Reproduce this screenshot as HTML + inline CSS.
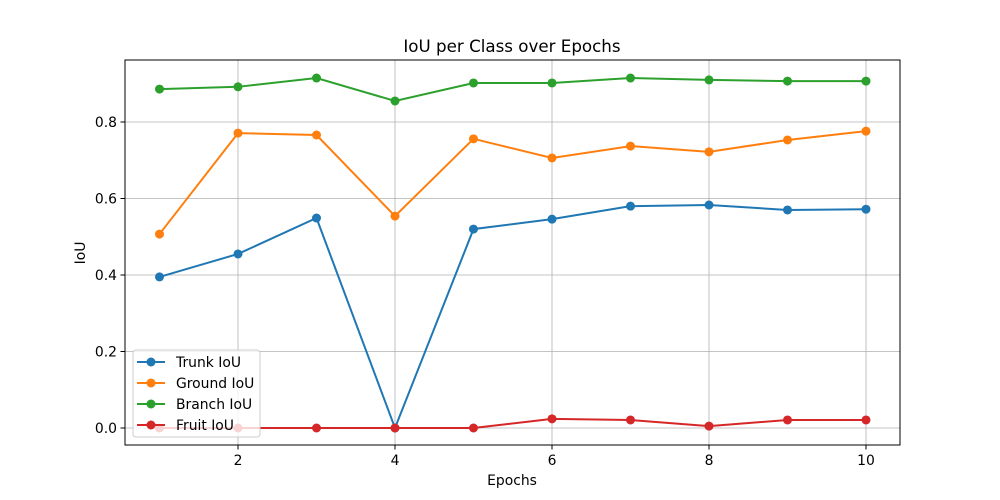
<!DOCTYPE html>
<html><head><meta charset="utf-8"><style>
body{margin:0;background:#fff}
svg{display:block;font-family:"DejaVu Sans","Liberation Sans",sans-serif}
</style></head><body>
<svg id="chart" width="1000" height="500">
<rect width="1000" height="500" fill="#fff"/>
<text x="512" y="52" font-size="16.7" text-anchor="middle">IoU per Class over Epochs</text>
<text x="512" y="485" font-size="13.9" text-anchor="middle">Epochs</text>
<text transform="translate(85,253) rotate(-90)" font-size="13.9" text-anchor="middle">IoU</text>
<g id="grid"></g><g id="series"></g><g id="ticks"></g>
<rect x="125" y="60" width="775" height="385" fill="none" stroke="#000" stroke-width="1"/>
<g id="legend"></g>
</svg>
<script>
const epochs=[1,2,3,4,5,6,7,8,9,10];
const trunk=[0.395,0.455,0.549,0.0,0.520,0.546,0.580,0.583,0.570,0.572];
const ground=[0.507,0.771,0.766,0.554,0.756,0.706,0.737,0.722,0.753,0.776];
const branch=[0.886,0.892,0.915,0.855,0.902,0.902,0.915,0.910,0.907,0.907];
const fruit=[0,0,0,0,0,0.024,0.021,0.005,0.021,0.021];
const seriesNames=["Trunk IoU","Ground IoU","Branch IoU","Fruit IoU"];
const seriesColors=["#1f77b4","#ff7f0e","#2ca02c","#d62728"];
const xTicks=[2,4,6,8,10];
const yTicks=[0,0.2,0.4,0.6,0.8];
const NS="http://www.w3.org/2000/svg";
function X(v){return 159.5+(v-1)*78.5;}
function Y(v){return 428-v*382.5;}
function mk(t,a,p){const e=document.createElementNS(NS,t);for(const k in a)e.setAttribute(k,a[k]);p.appendChild(e);return e;}
const grid=document.getElementById('grid'),ticks=document.getElementById('ticks'),ser=document.getElementById('series'),leg=document.getElementById('legend');
xTicks.forEach(v=>{
 const g=mk('line',{x1:X(v),x2:X(v),y1:60,y2:445,stroke:'#b0b0b0','stroke-width':0.8},grid);
 
 
 mk('line',{x1:X(v),x2:X(v),y1:445,y2:449.5,stroke:'#000'},ticks);
 const t=mk('text',{x:X(v),y:465,'font-size':13.9,'text-anchor':'middle'},ticks);t.textContent=v;
 
 
});
yTicks.forEach(v=>{
 const g=mk('line',{x1:125,x2:900,y1:Y(v),y2:Y(v),stroke:'#b0b0b0','stroke-width':0.8},grid);
 
 
 mk('line',{x1:120.5,x2:125,y1:Y(v),y2:Y(v),stroke:'#000'},ticks);
 const t=mk('text',{x:117,y:Y(v)+5,'font-size':13.9,'text-anchor':'end'},ticks);t.textContent=v.toFixed(1);
 
 
});
[trunk,ground,branch,fruit].forEach((d,i)=>{
 const g=mk('g',{},ser);
 
 
 mk('polyline',{points:d.map((v,j)=>X(epochs[j])+','+Y(v)).join(' '),fill:'none',stroke:seriesColors[i],'stroke-width':2},g);
 d.forEach((v,j)=>{const c=mk('circle',{cx:X(epochs[j]),cy:Y(v),r:4.5,fill:seriesColors[i]},g);
  
  });
});
const box=mk('rect',{x:133,y:350,width:127,height:87,rx:3,fill:'#fff','fill-opacity':0.8,stroke:'#ccc'},leg);


seriesNames.forEach((n,i)=>{
 const y=362+i*21;
 const g=mk('g',{},leg);
 
 
 mk('line',{x1:137,x2:165,y1:y,y2:y,stroke:seriesColors[i],'stroke-width':2},g);
 mk('circle',{cx:151,cy:y,r:4.5,fill:seriesColors[i]},g);
 const t=mk('text',{x:176,y:y+5,'font-size':13.9},g);t.textContent=n;
});
</script>
</body></html>
